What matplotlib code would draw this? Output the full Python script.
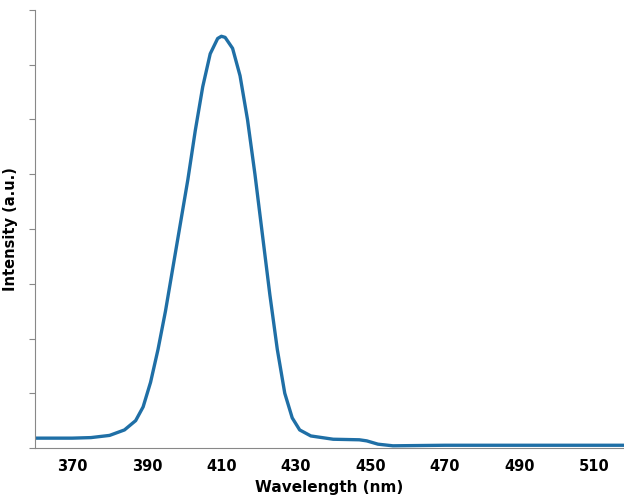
import numpy as np
import matplotlib.pyplot as plt

""" Data read off the reference """
wavelength = [360, 370, 375, 380, 384, 387, 389, 391, 393, 395, 397, 399, 401, 403,
              405, 407, 409, 410, 411, 413, 415, 417, 419, 421, 423, 425, 427, 429,
              431, 434, 440, 447, 449, 452, 456, 470, 518]
intensity = [0.18, 0.18, 0.19, 0.23, 0.33, 0.5, 0.75, 1.2, 1.8, 2.5, 3.3, 4.1, 4.9, 5.8,
             6.6, 7.2, 7.48, 7.52, 7.5, 7.3, 6.8, 6.0, 5.0, 3.9, 2.8, 1.8, 1.0, 0.55,
             0.33, 0.22, 0.16, 0.15, 0.13, 0.07, 0.04, 0.05, 0.05]
xticks = [370, 390, 410, 430, 450, 470, 490, 510]

fig = plt.figure(figsize=(6.24, 5.04), dpi=100)
ax = fig.add_axes([35 / 624, 56 / 504, 1 - 35 / 624, 438 / 504])

ax.plot(wavelength, intensity, color="#1f6fa6", lw=2.4,
        solid_joinstyle="round", solid_capstyle="round")

ax.set_xlim(360, 518)
ax.set_ylim(0, 8)
ax.set_xticks(xticks)
ax.set_yticks(range(0, 9))
ax.set_yticklabels([])
for lbl in ax.get_xticklabels():
    lbl.set_fontweight("bold")
ax.tick_params(axis="x", labelsize=10.5, length=0, pad=8)
ax.tick_params(axis="y", length=4, color="#888888")

for s in ["top", "right"]:
    ax.spines[s].set_visible(False)
for s in ["left", "bottom"]:
    ax.spines[s].set_color("#888888")

ax.set_xlabel("Wavelength (nm)", fontsize=11, fontweight="bold", labelpad=4)
ax.set_ylabel("Intensity (a.u.)", fontsize=10.5, fontweight="bold", labelpad=5)

fig.savefig("out.png", dpi=100)
